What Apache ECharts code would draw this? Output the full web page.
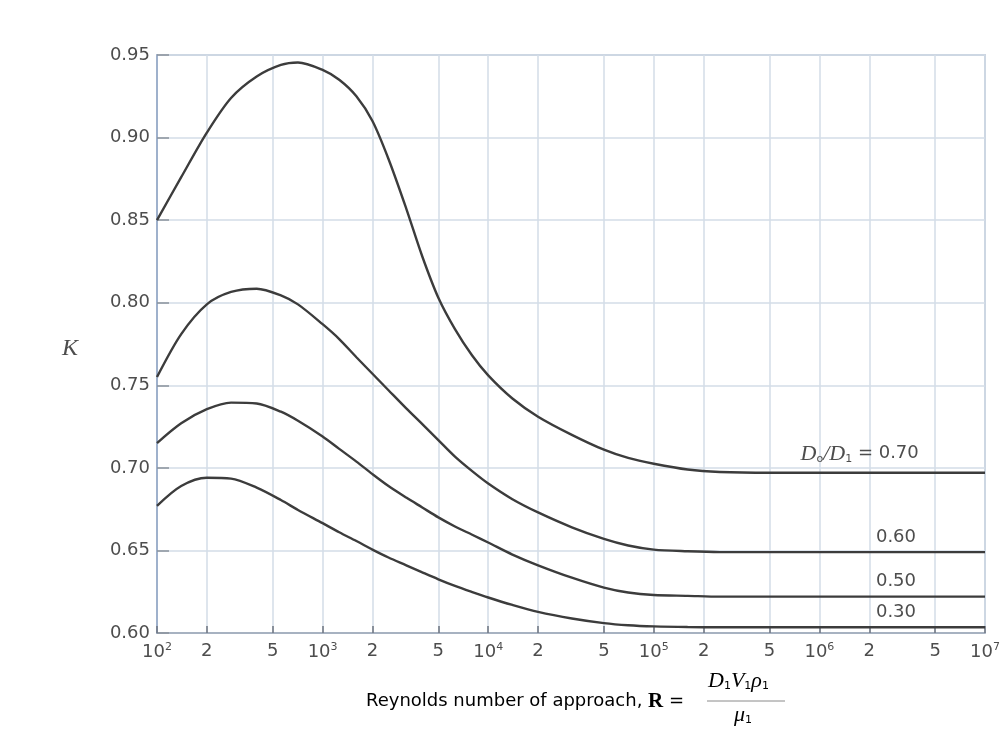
<!DOCTYPE html>
<html>
<head>
<meta charset="utf-8">
<script src="https://cdn.jsdelivr.net/npm/echarts@6/dist/echarts.min.js"></script>
<style>
  html, body { margin: 0; padding: 0; background: #fff; }
  #chart { width: 1006px; height: 731px; }
</style>
</head>
<body>
<div id="chart"></div>
<script>
const reynolds = [100, 140, 200, 280, 400, 560, 710, 1000, 1260, 1600, 2000, 2500, 3200, 4000, 5000, 6300, 8000,
                  1e4, 1.4e4, 2e4, 3.2e4, 5e4, 7e4, 1e5, 1.6e5, 2.5e5, 5e5, 1e7];

// K for each diameter ratio D0/D1
const k070 = [0.850, 0.876, 0.903, 0.924, 0.937, 0.944, 0.9455, 0.941, 0.935, 0.925, 0.910, 0.887, 0.857, 0.828,
              0.803, 0.784, 0.768, 0.756, 0.742, 0.731, 0.720, 0.711, 0.706, 0.7025, 0.699, 0.6975, 0.697, 0.697];
const k060 = [0.755, 0.781, 0.799, 0.8065, 0.8085, 0.8045, 0.799, 0.787, 0.778, 0.767, 0.757, 0.747, 0.736, 0.7265,
              0.7168, 0.7068, 0.698, 0.6905, 0.681, 0.673, 0.664, 0.657, 0.653, 0.6505, 0.6495, 0.649, 0.649, 0.649];
const k050 = [0.715, 0.727, 0.7355, 0.7395, 0.739, 0.734, 0.7285, 0.719, 0.7115, 0.7038, 0.6962, 0.689, 0.682, 0.676,
              0.670, 0.6645, 0.6595, 0.6548, 0.6475, 0.641, 0.6335, 0.6275, 0.6245, 0.623, 0.6225, 0.622, 0.622, 0.622];
const k030 = [0.677, 0.689, 0.694, 0.6935, 0.688, 0.6805, 0.6745, 0.6665, 0.661, 0.6557, 0.6505, 0.6457, 0.641, 0.6367,
              0.6325, 0.6285, 0.6248, 0.6215, 0.617, 0.6128, 0.6088, 0.606, 0.6047, 0.604, 0.6036, 0.6035, 0.6035, 0.6035];

const ratioLabels = ['0.70', '0.60', '0.50', '0.30'];
const xTicks = [100, 200, 500, 1e3, 2e3, 5e3, 1e4, 2e4, 5e4, 1e5, 2e5, 5e5, 1e6, 2e6, 5e6, 1e7];
const labelRe = [1.75e6, 2.9e6, 2.9e6, 2.9e6];

const curveColor = '#3c3c3c';
const textColor = '#4d4d4d';
const gridColor = '#d3dce7';

function curve(ys, idx) {
  const last = ys[ys.length - 1];
  const txt = idx === 0
    ? '{d|D}{s|o}{d|/D}{s|1}{t| = ' + ratioLabels[idx] + '}'
    : '{t|' + ratioLabels[idx] + '}';
  return {
    type: 'line',
    smooth: 0.3,
    symbol: 'none',
    silent: true,
    lineStyle: { color: curveColor, width: 2.4 },
    data: reynolds.map((r, i) => [r, ys[i]]),
    markPoint: {
      symbol: 'circle',
      symbolSize: 0,
      silent: true,
      label: {
        show: true,
        position: 'inside',
        offset: [0, idx === 0 ? -19 : -15],
        formatter: txt,
        rich: {
          t: { fontFamily: 'DejaVu Sans', fontSize: 18, color: textColor },
          d: { fontFamily: 'Liberation Serif', fontStyle: 'italic', fontSize: 22, color: textColor },
          s: { fontFamily: 'DejaVu Sans', fontSize: 11, color: textColor, padding: [11, 0, 0, 0] }
        }
      },
      data: [{ coord: [labelRe[idx], last] }]
    }
  };
}

function tickLabel(v) {
  const e = Math.floor(Math.log10(v) + 1e-9);
  const m = Math.round(v / Math.pow(10, e));
  if (m === 1) return '{b|10}{p|' + e + '}';
  return '{b|' + m + '}';
}

const subRich = {
  i: { fontFamily: 'Liberation Serif', fontStyle: 'italic', fontSize: 22, color: textColor },
  s: { fontFamily: 'DejaVu Sans', fontSize: 11, color: textColor, padding: [11, 0, 0, 0] }
};

const chart = echarts.init(document.getElementById('chart'));
chart.setOption({
  backgroundColor: '#fff',
  animation: false,
  grid: {
    left: 157, right: 21, top: 55, bottom: 98,
    show: true, borderColor: '#a7b5c8', borderWidth: 1.5
  },
  xAxis: {
    type: 'log',
    logBase: 10,
    min: 100,
    max: 1e7,
    axisLine: { show: true, lineStyle: { color: '#9aa6b6', width: 1.5 } },
    axisTick: { show: true, inside: true, length: 7, customValues: xTicks, lineStyle: { color: '#6d7480', width: 1.5 } },
    axisLabel: {
      customValues: xTicks,
      margin: 9,
      formatter: tickLabel,
      rich: {
        b: { fontFamily: 'DejaVu Sans', fontSize: 18, color: textColor },
        p: { fontFamily: 'DejaVu Sans', fontSize: 11, color: textColor, padding: [0, 0, 10, 0] }
      }
    },
    splitLine: { show: true, lineStyle: { color: gridColor, width: 1.5 } }
  },
  yAxis: {
    type: 'value',
    min: 0.6,
    max: 0.95,
    interval: 0.05,
    axisLine: { show: true, lineStyle: { color: '#9fb1cc', width: 2 } },
    axisTick: { show: true, inside: true, length: 12, lineStyle: { color: '#8b929c', width: 1.5 } },
    axisLabel: {
      margin: 7,
      fontFamily: 'DejaVu Sans',
      fontSize: 18,
      color: textColor,
      formatter: v => v.toFixed(2)
    },
    splitLine: { show: true, lineStyle: { color: gridColor, width: 1.5 } }
  },
  graphic: [
    {
      type: 'text', left: 62, top: 337,
      style: { text: 'K', font: 'italic 24px "Liberation Serif"', fill: textColor }
    },
    {
      type: 'text', left: 366, top: 691,
      style: {
        text: '{a|Reynolds number of approach, }{r|R}{a| =}',
        rich: {
          a: { fontFamily: 'DejaVu Sans', fontSize: 18, color: textColor },
          r: { fontFamily: 'Liberation Serif', fontWeight: 'bold', fontSize: 21, color: textColor }
        }
      }
    },
    {
      type: 'text', left: 708, top: 670,
      style: { text: '{i|D}{s|1}{i|V}{s|1}{i|ρ}{s|1}', rich: subRich }
    },
    {
      type: 'line', shape: { x1: 707, y1: 701, x2: 785, y2: 701 },
      style: { stroke: '#8a8a8a', lineWidth: 1 }
    },
    {
      type: 'text', left: 734, top: 704,
      style: { text: '{i|μ}{s|1}', rich: subRich }
    }
  ],
  series: [
    curve(k070, 0),
    curve(k060, 1),
    curve(k050, 2),
    curve(k030, 3)
  ]
});
</script>
</body>
</html>
